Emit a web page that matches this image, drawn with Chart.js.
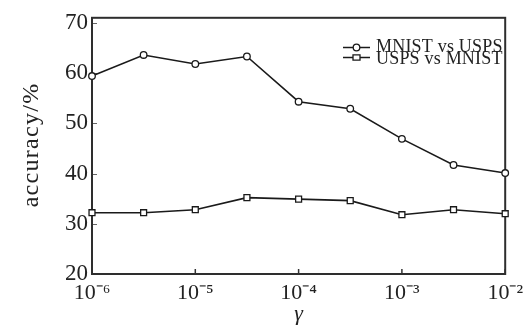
<!DOCTYPE html>
<html><head><meta charset="utf-8">
<style>html,body{margin:0;padding:0;background:#fff}#wrap{width:529px;height:329px;position:relative}</style>
<script src="https://cdn.jsdelivr.net/npm/chart.js@4.4.1/dist/chart.umd.min.js"></script>
</head><body><div id="wrap"><canvas id="c" width="529" height="329"></canvas></div>
<script>
// ---- data ----
const gammaValues = [1e-6, 3.16e-6, 1e-5, 3.16e-5, 1e-4, 3.16e-4, 1e-3, 3.16e-3, 1e-2];
const mnistVsUsps = [59.4, 63.6, 61.8, 63.3, 54.3, 52.9, 46.9, 41.7, 40.1];
const uspsVsMnist = [32.2, 32.2, 32.8, 35.2, 34.9, 34.6, 31.8, 32.8, 32.0];
const seriesNames = ['MNIST vs USPS', 'USPS vs MNIST'];
const xTicks = [1e-6, 1e-5, 1e-4, 1e-3, 1e-2];
const xTickLabels = ['10\u207B\u2076', '10\u207B\u2075', '10\u207B\u2074', '10\u207B\u00B3', '10\u207B\u00B2'];
const yTicks = [20, 30, 40, 50, 60, 70];
const xTitle = '\u03B3';
const yTitle = 'accuracy/%';

const serif = '"Liberation Serif", "Times New Roman", serif';
const ink = '#1a1a1a';
const frameColor = '#2e2e2e';

function drawMarker(ctx, style, x, y) {
  ctx.save();
  ctx.fillStyle = '#fff';
  ctx.strokeStyle = ink;
  ctx.lineWidth = 1.3;
  ctx.beginPath();
  if (style === 'circle') ctx.arc(x, y, 3.3, 0, Math.PI * 2);
  else ctx.rect(x - 3.5, y - 2.7, 7, 5.4);
  ctx.fill(); ctx.stroke();
  ctx.restore();
}

const framePlugin = {
  id: 'frame',
  beforeDatasetsDraw(chart) {
    const {ctx, chartArea: a, scales: {x, y}} = chart;
    ctx.save();
    ctx.strokeStyle = '#666'; ctx.lineWidth = 1;
    yTicks.forEach(v => {
      const py = Math.round(y.getPixelForValue(v)) + 0.5;
      ctx.beginPath(); ctx.moveTo(a.left, py); ctx.lineTo(a.left + 5, py); ctx.stroke();
    });
    ctx.strokeStyle = '#333'; ctx.lineWidth = 1.5;
    xTicks.forEach(v => {
      const px = x.getPixelForValue(v);
      ctx.beginPath(); ctx.moveTo(px, a.bottom); ctx.lineTo(px, a.bottom - 5); ctx.stroke();
    });
    ctx.strokeStyle = frameColor; ctx.lineWidth = 2;
    ctx.strokeRect(a.left, a.top, a.right - a.left, a.bottom - a.top);
    ctx.restore();
  },
  afterDraw(chart) {
    const {ctx, chartArea: a} = chart;
    // legend
    ctx.save();
    const rows = [{y: 47.5, base: 52, style: 'circle'}, {y: 57.5, base: 63.5, style: 'rect'}];
    rows.forEach((r, i) => {
      ctx.strokeStyle = ink; ctx.lineWidth = 1.5;
      ctx.beginPath(); ctx.moveTo(343, r.y); ctx.lineTo(370, r.y); ctx.stroke();
      drawMarker(ctx, r.style, 356.5, r.y);
      ctx.fillStyle = '#222';
      ctx.font = '18px ' + serif;
      ctx.textAlign = 'left'; ctx.textBaseline = 'alphabetic';
      try { ctx.letterSpacing = '0.2px'; } catch (e) {}
      ctx.fillText(seriesNames[i], 376, r.base);
    });
    ctx.restore();
    // y title
    ctx.save();
    ctx.translate(38, (a.top + a.bottom) / 2);
    ctx.rotate(-Math.PI / 2);
    ctx.font = '24px ' + serif;
    ctx.fillStyle = '#222';
    try { ctx.letterSpacing = '1.3px'; } catch (e) {}
    ctx.textAlign = 'center'; ctx.textBaseline = 'alphabetic';
    ctx.fillText(yTitle, 1, 0);
    ctx.restore();
  }
};

const pointStyles = ['circle', 'rect'];

new Chart(document.getElementById('c'), {
  type: 'line',
  data: {
    datasets: [mnistVsUsps, uspsVsMnist].map((vals, i) => ({
      label: seriesNames[i],
      data: gammaValues.map((g, j) => ({x: g, y: vals[j]})),
      borderColor: ink,
      borderWidth: 1.6,
      pointStyle: pointStyles[i],
      pointRadius: i === 0 ? 3.3 : 4.2,
      pointBorderWidth: 1.3,
      pointBackgroundColor: '#fff',
      pointBorderColor: ink,
      tension: 0,
      clip: false
    }))
  },
  options: {
    responsive: false,
    animation: false,
    devicePixelRatio: 1,
    layout: {padding: {left: 0, right: 20, top: 15, bottom: 0}},
    plugins: {legend: {display: false}, tooltip: {enabled: false}},
    scales: {
      x: {
        type: 'logarithmic',
        min: 1e-6, max: 1e-2,
        afterBuildTicks: s => { s.ticks = xTicks.map(v => ({value: v})); },
        afterFit: s => { s.height = 55; },
        grid: {display: false, drawTicks: false},
        border: {display: false},
        ticks: {
          autoSkip: false, maxRotation: 0, padding: 6, color: '#222',
          font: {family: serif, size: 22},
          callback: (v, idx) => xTickLabels[idx]
        },
        title: {display: true, text: xTitle, color: '#222', padding: {top: 0, bottom: 2},
          font: {family: serif, size: 22, style: 'italic'}}
      },
      y: {
        min: 20, max: 71,
        afterBuildTicks: s => { s.ticks = yTicks.map(v => ({value: v})); },
        afterFit: s => { s.width = 92; },
        grid: {display: false, drawTicks: false},
        border: {display: false},
        ticks: {padding: 4, color: '#222', font: {family: serif, size: 23}}
      }
    }
  },
  plugins: [framePlugin]
});
</script></body></html>
